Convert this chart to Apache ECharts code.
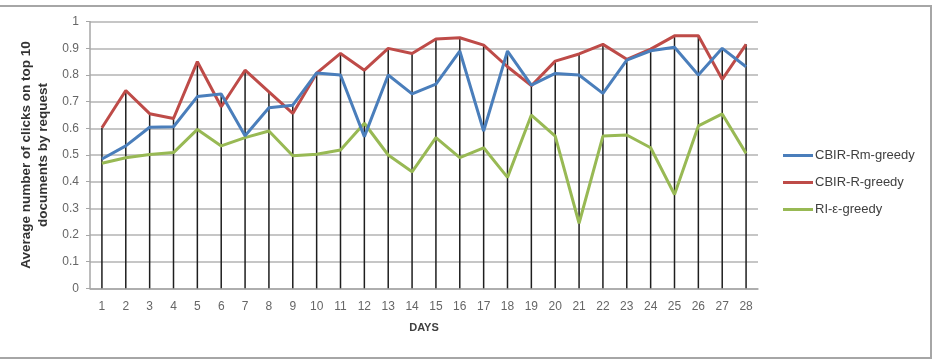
<!DOCTYPE html>
<html>
<head>
<meta charset="utf-8">
<script src="https://cdn.jsdelivr.net/npm/echarts@6/dist/echarts.min.js"></script>
<style>
  html, body { margin: 0; padding: 0; background: #fff; }
  #clicks-chart { width: 939px; height: 360px; }
</style>
</head>
<body>
<div id="clicks-chart"></div>
<script>
const days = ['1', '2', '3', '4', '5', '6', '7', '8', '9', '10', '11', '12', '13', '14',
  '15', '16', '17', '18', '19', '20', '21', '22', '23', '24', '25', '26', '27', '28'];
const cbirRm = [0.485, 0.534, 0.604, 0.606, 0.719, 0.729, 0.572, 0.677, 0.687, 0.808,
  0.8, 0.569, 0.8, 0.729, 0.766, 0.89, 0.59, 0.89, 0.762, 0.806,
  0.8, 0.731, 0.856, 0.891, 0.904, 0.8, 0.9, 0.831];
const cbirR = [0.602, 0.742, 0.655, 0.637, 0.85, 0.681, 0.818, 0.737, 0.656, 0.807,
  0.881, 0.818, 0.9, 0.881, 0.935, 0.94, 0.912, 0.831, 0.76, 0.852,
  0.879, 0.915, 0.859, 0.897, 0.947, 0.947, 0.784, 0.915];
const riGreedy = [0.469, 0.49, 0.502, 0.509, 0.596, 0.534, 0.565, 0.59, 0.497, 0.503,
  0.519, 0.619, 0.5, 0.437, 0.565, 0.49, 0.527, 0.416, 0.65, 0.571,
  0.244, 0.571, 0.575, 0.527, 0.352, 0.609, 0.654, 0.506];
const yTicks = [0, 0.1, 0.2, 0.3, 0.4, 0.5, 0.6, 0.7, 0.8, 0.9, 1];

// drop lines go from the highest point of each day down to the axis
const dropLines = days.map((d, i) => Math.max(cbirRm[i], cbirR[i], riGreedy[i]));

const font = 'Liberation Sans, Arial, sans-serif';
let myChart = echarts.init(document.getElementById('clicks-chart'));
myChart.setOption({
  animation: false,
  graphic: [{
    type: 'rect',
    shape: {x: -2, y: 6, width: 933, height: 352},
    style: {fill: 'none', stroke: '#a6a6a6', lineWidth: 2},
    silent: true
  }],
  grid: {left: 90, right: 181, top: 21.7, bottom: 71.7},
  legend: {
    orient: 'vertical',
    left: 778,
    top: 144,
    itemGap: 14,
    itemWidth: 30,
    itemHeight: 3,
    icon: 'rect',
    data: ['CBIR-Rm-greedy', 'CBIR-R-greedy', 'RI-ε-greedy'],
    textStyle: {fontFamily: font, fontSize: 13, color: '#404040', padding: [0, 0, 0, -3]}
  },
  xAxis: {
    type: 'category',
    data: days,
    boundaryGap: true,
    name: 'DAYS',
    nameLocation: 'middle',
    nameGap: 34,
    nameTextStyle: {fontFamily: font, fontSize: 11, fontWeight: 'bold', color: '#404040'},
    axisLine: {lineStyle: {color: '#a6a6a6', width: 1.5}},
    axisTick: {show: false},
    axisLabel: {fontFamily: font, fontSize: 12, color: '#666', margin: 12}
  },
  yAxis: {
    type: 'value',
    min: 0,
    max: 1,
    interval: 0.1,
    name: 'Average number of clicks on top 10\ndocuments by request',
    nameLocation: 'middle',
    nameGap: 31,
    nameTextStyle: {fontFamily: font, fontSize: 13.5, fontWeight: 'bold', color: '#333', lineHeight: 17},
    axisLine: {show: true, lineStyle: {color: '#a6a6a6', width: 1.5}},
    axisTick: {show: true, length: 4, lineStyle: {color: '#a6a6a6'}},
    axisLabel: {
      fontFamily: font, fontSize: 12, color: '#666', margin: 11,
      formatter: v => String(yTicks.find(t => Math.abs(t - v) < 1e-6) ?? v)
    },
    splitLine: {lineStyle: {color: '#b3b3b3', width: 1.5}}
  },
  series: [
    {
      name: 'drop',
      type: 'bar',
      data: dropLines,
      barWidth: 1.5,
      itemStyle: {color: '#1e1e1e'},
      z: 1,
      silent: true
    },
    {
      name: 'CBIR-Rm-greedy',
      type: 'line',
      data: cbirRm,
      symbol: 'none',
      lineStyle: {color: '#4a7ebb', width: 3},
      itemStyle: {color: '#4a7ebb'},
      z: 3
    },
    {
      name: 'CBIR-R-greedy',
      type: 'line',
      data: cbirR,
      symbol: 'none',
      lineStyle: {color: '#be4b48', width: 3},
      itemStyle: {color: '#be4b48'},
      z: 2
    },
    {
      name: 'RI-ε-greedy',
      type: 'line',
      data: riGreedy,
      symbol: 'none',
      lineStyle: {color: '#98b954', width: 3},
      itemStyle: {color: '#98b954'},
      z: 2
    }
  ]
});
</script>
</body>
</html>
